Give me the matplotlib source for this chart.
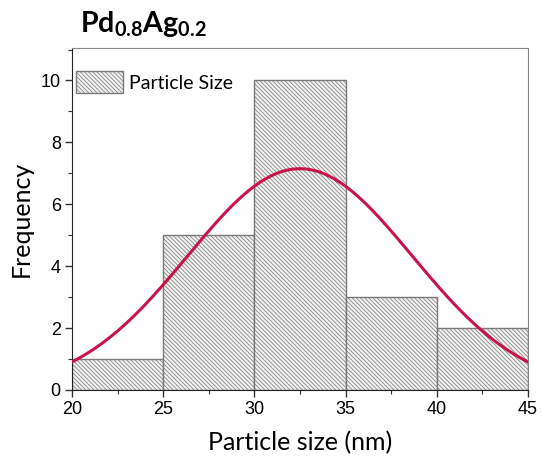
import numpy as np
import matplotlib
matplotlib.use("Agg")
import matplotlib.pyplot as plt
from matplotlib.ticker import MultipleLocator

# histogram bins and counts
bin_edges = [20, 25, 30, 35, 40, 45]
counts = [1, 5, 10, 3, 2]

# gaussian fit parameters
fit_amp = 7.15
fit_center = 32.5
fit_sigma = 6.15

plt.rcParams['hatch.color'] = '#8a8a8a'
plt.rcParams['hatch.linewidth'] = 0.5
plt.rcParams['mathtext.fontset'] = 'custom'
plt.rcParams['mathtext.bf'] = 'Lato:bold'
plt.rcParams['mathtext.rm'] = 'Lato'

fig = plt.figure(figsize=(5.42, 4.65), dpi=100)
ax = fig.add_axes([0.1328, 0.1613, 0.8412, 0.7355])

lefts = bin_edges[:-1]
widths = np.diff(bin_edges)
ax.bar(lefts, counts, width=widths, align='edge', color='#efefef',
       edgecolor='#7a7a7a', linewidth=1.0, hatch='\\' * 8,
       label='Particle Size', zorder=2)

xs = np.linspace(bin_edges[0], bin_edges[-1], 300)
ys = fit_amp * np.exp(-(xs - fit_center) ** 2 / (2 * fit_sigma ** 2))
ax.plot(xs, ys, color='#c8144a', linewidth=2.2, zorder=3)

ax.set_xlim(20, 45)
ax.set_ylim(0, 11.05)
ax.xaxis.set_major_locator(MultipleLocator(5))
ax.xaxis.set_minor_locator(MultipleLocator(2.5))
ax.yaxis.set_major_locator(MultipleLocator(2))
ax.yaxis.set_minor_locator(MultipleLocator(1))
ax.tick_params(which='both', direction='out', top=False, right=False,
               color='#333333')
ax.tick_params(which='major', length=5, width=1, labelsize=13, pad=3)
ax.tick_params(which='minor', length=3, width=0.8)
for lab in ax.get_xticklabels() + ax.get_yticklabels():
    lab.set_fontfamily('Liberation Sans')

for side in ['top', 'right']:
    ax.spines[side].set_color('#888888')
for side in ['left', 'bottom']:
    ax.spines[side].set_color('#222222')

ax.set_xlabel('Particle size (nm)', fontsize=18, family='Lato', labelpad=9)
ax.set_ylabel('Frequency', fontsize=18, family='Lato', labelpad=6)

leg = ax.legend(loc='upper left', bbox_to_anchor=(0.009, 0.933), frameon=False,
                prop={'family': 'Lato', 'size': 14},
                handlelength=2.4, handleheight=1.4, borderaxespad=0,
                borderpad=0, handletextpad=0.3)

fig.text(0.148, 0.931, r'$\mathbf{Pd_{0.8}Ag_{0.2}}$', fontsize=20.5, ha='left', va='baseline')

fig.savefig('out.png', dpi=100)
